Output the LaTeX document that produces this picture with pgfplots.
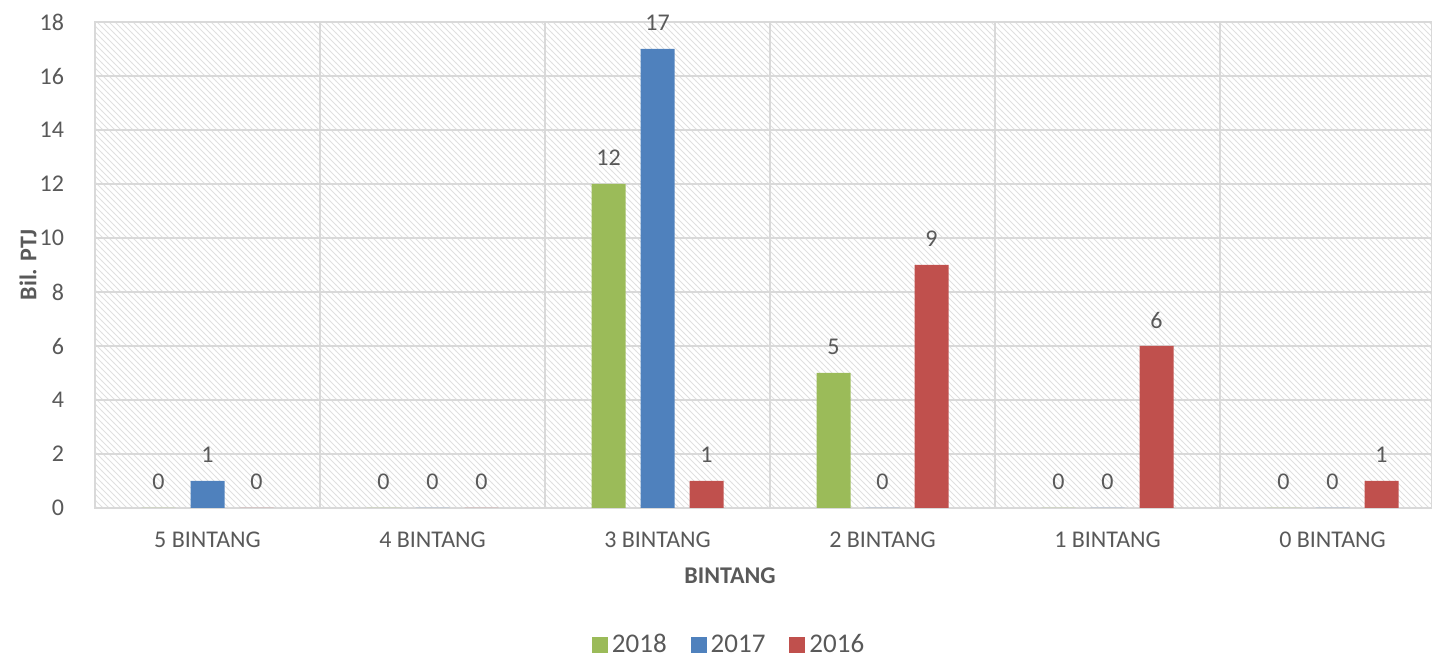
\documentclass[border=0pt]{standalone}
\usepackage{pgfplots}
\pgfplotsset{compat=1.18}
\usepackage{fontspec}
\setmainfont{Carlito}
\usetikzlibrary{patterns}
\definecolor{g18}{HTML}{9BBB59}
\definecolor{b17}{HTML}{4F81BD}
\definecolor{r16}{HTML}{C0504D}
\definecolor{txt}{HTML}{595959}
\definecolor{grd}{HTML}{D9D9D9}
\begin{document}
\begin{tikzpicture}
\begin{axis}[
    scale only axis,
    width=668.5pt, height=243pt,
    ymin=0, ymax=18, ytick={0,2,...,18},
    xmin=-0.5, xmax=5.442,
    xtick={0,1,2,3,4,5},
    xticklabels={5 BINTANG,4 BINTANG,3 BINTANG,2 BINTANG,1 BINTANG,0 BINTANG},
    minor xtick={0.5,1.5,2.5,3.5,4.5},
    xminorgrids, ymajorgrids,
    major grid style={draw=grd, line width=1pt},
    minor grid style={draw=grd, line width=1pt},
    axis line style={draw=grd, line width=1pt},
    tick style={draw=none},
    axis background/.style={pattern=north west lines, pattern color=black!12},
    ticklabel style={font=\fontsize{12}{14}\selectfont, text=txt},
    /pgf/number format/assume math mode=true,
    x tick label style={yshift=-4pt},
    y tick label style={xshift=-12pt},
    xlabel={\textbf{BINTANG}},
    ylabel={\textbf{Bil. PTJ}},
    label style={font=\fontsize{12}{14}\selectfont, text=txt},
    xlabel style={at={(axis description cs:0.475,-0.14)}, anchor=center},
    ylabel style={at={(axis description cs:-0.0501,0.5)}, anchor=center, rotate=0},
    ybar, bar width=17pt,
    nodes near coords,
    every node near coord/.append style={font=\fontsize{12}{14}\selectfont, text=txt, anchor=center, yshift=13pt},
    legend columns=3,
    legend style={at={(axis description cs:0.475,-0.282)}, anchor=center, draw=none, fill=none,
        font=\fontsize{13.5}{16}\selectfont, text=txt,
        /tikz/every even column/.append style={column sep=10pt}},
    legend image code/.code={\fill[#1] (0pt,-4pt) rectangle (8pt,4pt);},
]
\addplot[fill=g18, draw=none, bar shift=-24.5pt] coordinates {(0,0) (1,0) (2,12) (3,5) (4,0) (5,0)};
\addplot[fill=b17, draw=none, bar shift=0pt] coordinates {(0,1) (1,0) (2,17) (3,0) (4,0) (5,0)};
\addplot[fill=r16, draw=none, bar shift=24.5pt] coordinates {(0,0) (1,0) (2,1) (3,9) (4,6) (5,1)};
\legend{2018,2017,2016}
\end{axis}
\pgfresetboundingbox
\path[use as bounding box] ([shift={(-47.5pt,-74.5pt)}]current axis.south west) rectangle ([shift={(0pt,11pt)}]current axis.north east);
\end{tikzpicture}
\end{document}
